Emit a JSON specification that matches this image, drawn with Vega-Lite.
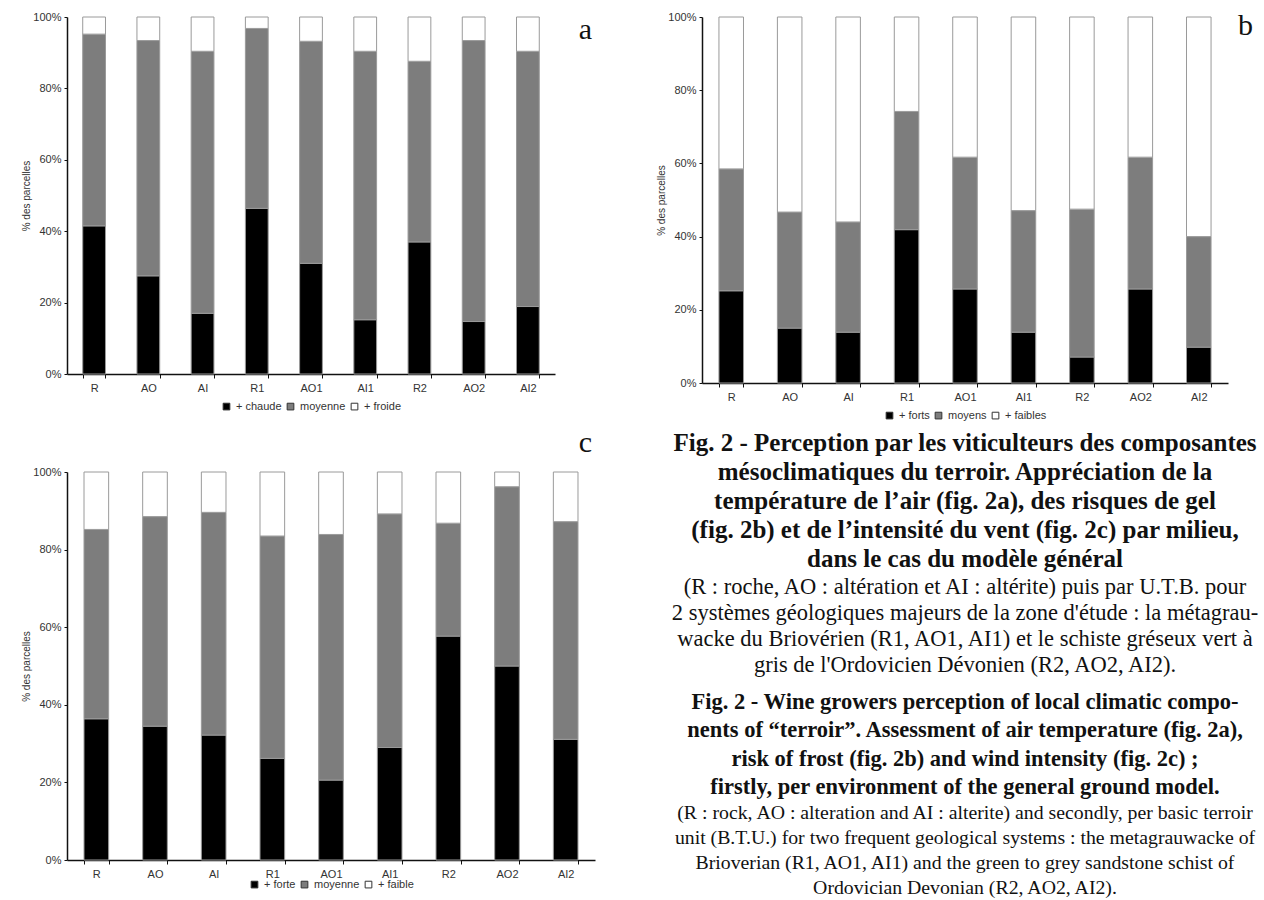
{
  "$schema": "https://vega.github.io/schema/vega-lite/v6.json",
  "background": "white",
  "padding": {"left": 21, "top": 11, "right": 2, "bottom": 2},
  "datasets": {
    "temperature": [
      {"milieu": "R", "classe": "+ chaude", "rang": 1, "pct": 41.5},
      {"milieu": "R", "classe": "moyenne", "rang": 2, "pct": 53.7},
      {"milieu": "R", "classe": "+ froide", "rang": 3, "pct": 4.8},
      {"milieu": "AO", "classe": "+ chaude", "rang": 1, "pct": 27.5},
      {"milieu": "AO", "classe": "moyenne", "rang": 2, "pct": 65.9},
      {"milieu": "AO", "classe": "+ froide", "rang": 3, "pct": 6.6},
      {"milieu": "AI", "classe": "+ chaude", "rang": 1, "pct": 17.0},
      {"milieu": "AI", "classe": "moyenne", "rang": 2, "pct": 73.4},
      {"milieu": "AI", "classe": "+ froide", "rang": 3, "pct": 9.6},
      {"milieu": "R1", "classe": "+ chaude", "rang": 1, "pct": 46.4},
      {"milieu": "R1", "classe": "moyenne", "rang": 2, "pct": 50.4},
      {"milieu": "R1", "classe": "+ froide", "rang": 3, "pct": 3.2},
      {"milieu": "AO1", "classe": "+ chaude", "rang": 1, "pct": 31.0},
      {"milieu": "AO1", "classe": "moyenne", "rang": 2, "pct": 62.2},
      {"milieu": "AO1", "classe": "+ froide", "rang": 3, "pct": 6.8},
      {"milieu": "AI1", "classe": "+ chaude", "rang": 1, "pct": 15.2},
      {"milieu": "AI1", "classe": "moyenne", "rang": 2, "pct": 75.2},
      {"milieu": "AI1", "classe": "+ froide", "rang": 3, "pct": 9.6},
      {"milieu": "R2", "classe": "+ chaude", "rang": 1, "pct": 37.0},
      {"milieu": "R2", "classe": "moyenne", "rang": 2, "pct": 50.6},
      {"milieu": "R2", "classe": "+ froide", "rang": 3, "pct": 12.4},
      {"milieu": "AO2", "classe": "+ chaude", "rang": 1, "pct": 14.7},
      {"milieu": "AO2", "classe": "moyenne", "rang": 2, "pct": 78.7},
      {"milieu": "AO2", "classe": "+ froide", "rang": 3, "pct": 6.6},
      {"milieu": "AI2", "classe": "+ chaude", "rang": 1, "pct": 18.9},
      {"milieu": "AI2", "classe": "moyenne", "rang": 2, "pct": 71.5},
      {"milieu": "AI2", "classe": "+ froide", "rang": 3, "pct": 9.6}
    ],
    "gel": [
      {"milieu": "R", "classe": "+ forts", "rang": 1, "pct": 25.2},
      {"milieu": "R", "classe": "moyens", "rang": 2, "pct": 33.3},
      {"milieu": "R", "classe": "+ faibles", "rang": 3, "pct": 41.5},
      {"milieu": "AO", "classe": "+ forts", "rang": 1, "pct": 15.0},
      {"milieu": "AO", "classe": "moyens", "rang": 2, "pct": 31.7},
      {"milieu": "AO", "classe": "+ faibles", "rang": 3, "pct": 53.3},
      {"milieu": "AI", "classe": "+ forts", "rang": 1, "pct": 13.9},
      {"milieu": "AI", "classe": "moyens", "rang": 2, "pct": 30.1},
      {"milieu": "AI", "classe": "+ faibles", "rang": 3, "pct": 56.0},
      {"milieu": "R1", "classe": "+ forts", "rang": 1, "pct": 41.9},
      {"milieu": "R1", "classe": "moyens", "rang": 2, "pct": 32.3},
      {"milieu": "R1", "classe": "+ faibles", "rang": 3, "pct": 25.8},
      {"milieu": "AO1", "classe": "+ forts", "rang": 1, "pct": 25.7},
      {"milieu": "AO1", "classe": "moyens", "rang": 2, "pct": 36.0},
      {"milieu": "AO1", "classe": "+ faibles", "rang": 3, "pct": 38.3},
      {"milieu": "AI1", "classe": "+ forts", "rang": 1, "pct": 13.9},
      {"milieu": "AI1", "classe": "moyens", "rang": 2, "pct": 33.2},
      {"milieu": "AI1", "classe": "+ faibles", "rang": 3, "pct": 52.9},
      {"milieu": "R2", "classe": "+ forts", "rang": 1, "pct": 7.1},
      {"milieu": "R2", "classe": "moyens", "rang": 2, "pct": 40.4},
      {"milieu": "R2", "classe": "+ faibles", "rang": 3, "pct": 52.5},
      {"milieu": "AO2", "classe": "+ forts", "rang": 1, "pct": 25.7},
      {"milieu": "AO2", "classe": "moyens", "rang": 2, "pct": 36.0},
      {"milieu": "AO2", "classe": "+ faibles", "rang": 3, "pct": 38.3},
      {"milieu": "AI2", "classe": "+ forts", "rang": 1, "pct": 9.8},
      {"milieu": "AI2", "classe": "moyens", "rang": 2, "pct": 30.2},
      {"milieu": "AI2", "classe": "+ faibles", "rang": 3, "pct": 60.0}
    ],
    "vent": [
      {"milieu": "R", "classe": "+ forte", "rang": 1, "pct": 36.4},
      {"milieu": "R", "classe": "moyenne", "rang": 2, "pct": 48.8},
      {"milieu": "R", "classe": "+ faible", "rang": 3, "pct": 14.8},
      {"milieu": "AO", "classe": "+ forte", "rang": 1, "pct": 34.5},
      {"milieu": "AO", "classe": "moyenne", "rang": 2, "pct": 54.0},
      {"milieu": "AO", "classe": "+ faible", "rang": 3, "pct": 11.5},
      {"milieu": "AI", "classe": "+ forte", "rang": 1, "pct": 32.2},
      {"milieu": "AI", "classe": "moyenne", "rang": 2, "pct": 57.4},
      {"milieu": "AI", "classe": "+ faible", "rang": 3, "pct": 10.4},
      {"milieu": "R1", "classe": "+ forte", "rang": 1, "pct": 26.2},
      {"milieu": "R1", "classe": "moyenne", "rang": 2, "pct": 57.3},
      {"milieu": "R1", "classe": "+ faible", "rang": 3, "pct": 16.5},
      {"milieu": "AO1", "classe": "+ forte", "rang": 1, "pct": 20.6},
      {"milieu": "AO1", "classe": "moyenne", "rang": 2, "pct": 63.3},
      {"milieu": "AO1", "classe": "+ faible", "rang": 3, "pct": 16.1},
      {"milieu": "AI1", "classe": "+ forte", "rang": 1, "pct": 29.0},
      {"milieu": "AI1", "classe": "moyenne", "rang": 2, "pct": 60.2},
      {"milieu": "AI1", "classe": "+ faible", "rang": 3, "pct": 10.8},
      {"milieu": "R2", "classe": "+ forte", "rang": 1, "pct": 57.7},
      {"milieu": "R2", "classe": "moyenne", "rang": 2, "pct": 29.1},
      {"milieu": "R2", "classe": "+ faible", "rang": 3, "pct": 13.2},
      {"milieu": "AO2", "classe": "+ forte", "rang": 1, "pct": 50.0},
      {"milieu": "AO2", "classe": "moyenne", "rang": 2, "pct": 46.2},
      {"milieu": "AO2", "classe": "+ faible", "rang": 3, "pct": 3.8},
      {"milieu": "AI2", "classe": "+ forte", "rang": 1, "pct": 31.1},
      {"milieu": "AI2", "classe": "moyenne", "rang": 2, "pct": 56.1},
      {"milieu": "AI2", "classe": "+ faible", "rang": 3, "pct": 12.8}
    ],
    "fr_titre": [
      {"ligne": 1, "texte": "Fig. 2 - Perception par les viticulteurs des composantes"},
      {"ligne": 2, "texte": "mésoclimatiques du terroir. Appréciation de la"},
      {"ligne": 3, "texte": "température  de l’air (fig. 2a), des risques de gel"},
      {"ligne": 4, "texte": "(fig. 2b) et de l’intensité du vent (fig. 2c) par milieu,"},
      {"ligne": 5, "texte": "dans le cas du modèle général"}
    ],
    "fr_texte": [
      {"ligne": 1, "texte": "(R : roche, AO : altération et AI : altérite) puis par U.T.B. pour"},
      {"ligne": 2, "texte": "2 systèmes géologiques majeurs de la zone d'étude : la métagrau-"},
      {"ligne": 3, "texte": "wacke du Briovérien (R1, AO1, AI1) et le schiste gréseux vert à"},
      {"ligne": 4, "texte": "gris de l'Ordovicien Dévonien (R2, AO2, AI2)."}
    ],
    "en_titre": [
      {"ligne": 1, "texte": "Fig. 2 - Wine growers perception of local climatic compo-"},
      {"ligne": 2, "texte": "nents  of “terroir”. Assessment of  air temperature (fig. 2a),"},
      {"ligne": 3, "texte": "risk of frost (fig. 2b) and wind intensity (fig. 2c) ;"},
      {"ligne": 4, "texte": "firstly, per environment of the general ground model."}
    ],
    "en_texte": [
      {"ligne": 1, "texte": "(R : rock, AO : alteration and AI : alterite) and secondly, per basic terroir"},
      {"ligne": 2, "texte": "unit (B.T.U.) for two frequent geological systems : the metagrauwacke of"},
      {"ligne": 3, "texte": "Brioverian (R1, AO1, AI1) and the green to grey sandstone schist of"},
      {"ligne": 4, "texte": "Ordovician Devonian  (R2, AO2, AI2)."}
    ]
  },
  "config": {
    "view": {"stroke": null},
    "axis": {
      "labelFont": "Liberation Sans", "labelFontSize": 11, "labelColor": "#333",
      "titleFont": "Liberation Sans", "titleFontSize": 10, "titleFontWeight": "normal", "titleColor": "#333",
      "domainColor": "#111", "domainWidth": 1.5, "tickColor": "#111", "grid": false
    },
    "axisX": {"tickBand": "extent", "tickSize": 4, "labelAngle": 0, "labelPadding": 4},
    "axisY": {"tickSize": 3, "titlePadding": 1, "labelPadding": 3},
    "legend": {
      "orient": "bottom", "direction": "horizontal",
      "labelFont": "Liberation Sans", "labelFontSize": 11, "labelColor": "#333",
      "symbolType": "square", "symbolSize": 45, "symbolStrokeColor": "#333", "symbolStrokeWidth": 1,
      "columnPadding": 3, "labelOffset": 4, "offset": 8,
      "layout": {"bottom": {"anchor": "middle"}}
    },
    "title": {"font": "Liberation Serif", "fontSize": 30, "fontWeight": "normal", "color": "#111", "anchor": "end", "frame": "group", "offset": 0, "baseline": "alphabetic"},
    "bar": {"stroke": "#9a9a9a", "strokeWidth": 1}
  },
  "resolve": {"scale": {"color": "independent"}, "legend": {"color": "independent"}},
  "spacing": 61,
  "hconcat": [
    {
      "spacing": 16,
      "resolve": {"scale": {"color": "independent"}, "legend": {"color": "independent"}},
      "vconcat": [
        {
          "data": {"name": "temperature"},
          "width": 488, "height": 357,
          "title": {"text": "a", "dx": 37, "dy": 38},
          "mark": {"type": "bar"},
          "encoding": {
            "x": {"field": "milieu", "type": "nominal", "sort": null, "scale": {"paddingInner": 0.58, "paddingOuter": 0.29}, "axis": {"title": null}},
            "y": {"field": "pct", "type": "quantitative", "stack": "zero", "scale": {"domain": [0, 100]}, "axis": {"values": [0, 20, 40, 60, 80, 100], "labelExpr": "datum.value + '%'", "title": "% des parcelles"}},
            "color": {"field": "classe", "type": "nominal", "scale": {"domain": ["+ chaude", "moyenne", "+ froide"], "range": ["#000000", "#7d7d7d", "#ffffff"]}, "legend": {"title": null}},
            "order": {"field": "rang", "type": "ordinal"}
          }
        },
        {
          "data": {"name": "vent"},
          "width": 528, "height": 388,
          "title": {"text": "c", "dx": -3, "dy": -4},
          "mark": {"type": "bar"},
          "encoding": {
            "x": {"field": "milieu", "type": "nominal", "sort": null, "scale": {"paddingInner": 0.58, "paddingOuter": 0.29}, "axis": {"title": null}},
            "y": {"field": "pct", "type": "quantitative", "stack": "zero", "scale": {"domain": [0, 100]}, "axis": {"values": [0, 20, 40, 60, 80, 100], "labelExpr": "datum.value + '%'", "title": "% des parcelles"}},
            "color": {"field": "classe", "type": "nominal", "scale": {"domain": ["+ forte", "moyenne", "+ faible"], "range": ["#000000", "#7d7d7d", "#ffffff"]}, "legend": {"title": null, "offset": 0}},
            "order": {"field": "rang", "type": "ordinal"}
          }
        }
      ]
    },
    {
      "spacing": 7,
      "resolve": {"scale": {"color": "independent"}, "legend": {"color": "independent"}},
      "vconcat": [
        {
          "data": {"name": "gel"},
          "width": 526, "height": 366,
          "title": {"text": "b", "dx": 25, "dy": 34},
          "mark": {"type": "bar"},
          "encoding": {
            "x": {"field": "milieu", "type": "nominal", "sort": null, "scale": {"paddingInner": 0.58, "paddingOuter": 0.29}, "axis": {"title": null}},
            "y": {"field": "pct", "type": "quantitative", "stack": "zero", "scale": {"domain": [0, 100]}, "axis": {"values": [0, 20, 40, 60, 80, 100], "labelExpr": "datum.value + '%'", "title": "% des parcelles"}},
            "color": {"field": "classe", "type": "nominal", "scale": {"domain": ["+ forts", "moyens", "+ faibles"], "range": ["#000000", "#7d7d7d", "#ffffff"]}, "legend": {"title": null}},
            "order": {"field": "rang", "type": "ordinal"}
          }
        },
        {
          "spacing": 10,
          "vconcat": [
            {
              "spacing": 0,
              "vconcat": [
                {
                  "data": {"name": "fr_titre"},
                  "width": 526, "height": 146,
                  "mark": {"type": "text", "font": "Liberation Serif", "fontSize": 25, "fontWeight": "bold", "color": "#111"},
                  "encoding": {
                    "y": {"field": "ligne", "type": "ordinal", "sort": null, "axis": null},
                    "text": {"field": "texte"}
                  }
                },
                {
                  "data": {"name": "fr_texte"},
                  "width": 526, "height": 104,
                  "mark": {"type": "text", "font": "Liberation Serif", "fontSize": 22.5, "color": "#111"},
                  "encoding": {
                    "y": {"field": "ligne", "type": "ordinal", "sort": null, "axis": null},
                    "text": {"field": "texte"}
                  }
                }
              ]
            },
            {
              "spacing": 0,
              "vconcat": [
                {
                  "data": {"name": "en_titre"},
                  "width": 526, "height": 113,
                  "mark": {"type": "text", "font": "Liberation Serif", "fontSize": 22.5, "fontWeight": "bold", "color": "#111"},
                  "encoding": {
                    "y": {"field": "ligne", "type": "ordinal", "sort": null, "axis": null},
                    "text": {"field": "texte"}
                  }
                },
                {
                  "data": {"name": "en_texte"},
                  "width": 526, "height": 99,
                  "mark": {"type": "text", "font": "Liberation Serif", "fontSize": 19.8, "color": "#111"},
                  "encoding": {
                    "y": {"field": "ligne", "type": "ordinal", "sort": null, "axis": null},
                    "text": {"field": "texte"}
                  }
                }
              ]
            }
          ]
        }
      ]
    }
  ]
}
